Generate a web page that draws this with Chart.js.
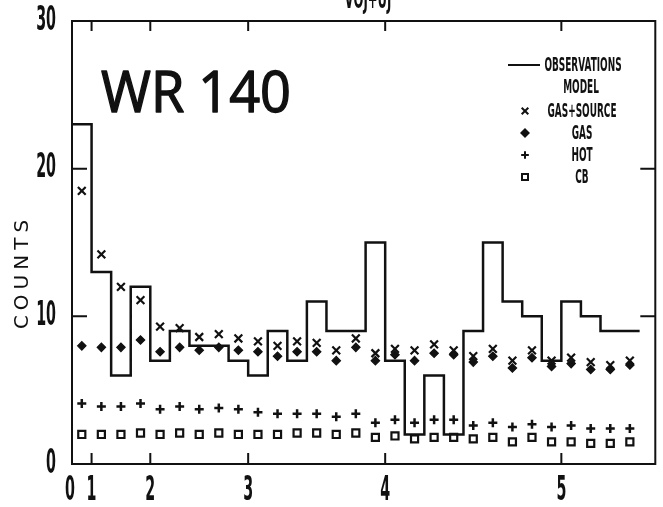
<!DOCTYPE html>
<html>
<head>
<meta charset="utf-8">
<title>WR 140 counts</title>
<script src="https://cdn.jsdelivr.net/npm/chart.js@4/dist/chart.umd.min.js"></script>
<style>
  html, body { margin: 0; padding: 0; background: #fff; }
  #wrap { width: 663px; height: 507px; }
</style>
</head>
<body>
<div id="wrap"><canvas id="chart" width="663" height="507"></canvas></div>
<script>
// observed counts per channel bin (histogram) and model components at bin centres
const observations = [23, 13, 6, 12, 7, 9, 8, 8, 7, 6, 9, 7, 11, 9, 9, 15, 7, 2, 6, 2, 9, 15, 11, 10, 7, 11, 10, 9, 9];
const gasSource = [18.5, 14.2, 12.0, 11.1, 9.3, 9.2, 8.6, 8.8, 8.5, 8.3, 8.0, 8.3, 8.2, 7.7, 8.5, 7.5, 7.8, 7.7, 8.1, 7.7, 7.3, 7.8, 7.0, 7.7, 7.0, 7.2, 6.9, 6.7, 7.0];
const gas = [8.0, 7.9, 7.9, 8.4, 7.6, 7.9, 7.7, 7.9, 7.7, 7.6, 7.3, 7.6, 7.6, 7.0, 7.9, 7.0, 7.4, 7.0, 7.5, 7.4, 6.9, 7.3, 6.5, 7.2, 6.6, 6.8, 6.4, 6.4, 6.7];
const hot = [4.1, 3.9, 3.9, 4.1, 3.7, 3.9, 3.7, 3.8, 3.7, 3.5, 3.4, 3.4, 3.4, 3.2, 3.4, 2.8, 3.0, 2.8, 3.0, 3.0, 2.6, 2.8, 2.5, 2.7, 2.5, 2.6, 2.4, 2.4, 2.4];
const cb = [2.0, 2.0, 2.0, 2.1, 2.0, 2.1, 2.0, 2.1, 2.0, 2.0, 2.0, 2.1, 2.1, 2.0, 2.1, 1.8, 1.9, 1.7, 1.8, 1.8, 1.7, 1.8, 1.5, 1.8, 1.5, 1.5, 1.4, 1.4, 1.5];

// axis ticks: energy labels sit at these channel positions
const yTicks = [0, 10, 20, 30];
const xTickChannels = [0, 1, 4, 9, 16, 25];
const xTickLabels = ['0', '1', '2', '3', '4', '5'];
const plotTitle = 'VOJ+UJ';
const sourceName = 'WR 140';

const ink = '#111';

// histogram: one point per bin edge, last bin closed by an extra point
const steps = observations.map((v, i) => ({x: i, y: v}));
steps.push({x: observations.length, y: observations[observations.length - 1]});
const atCentres = arr => arr.map((v, i) => ({x: i + 0.5, y: v}));

const series = [
  {label: 'GAS+SOURCE', data: gasSource, pointStyle: 'crossRot', pointRadius: 5.5, pointBorderWidth: 2.2, pointBackgroundColor: ink},
  {label: 'GAS', data: gas, pointStyle: 'rectRot', pointRadius: 4.2, pointBorderWidth: 1.2, pointBackgroundColor: ink},
  {label: 'HOT', data: hot, pointStyle: 'cross', pointRadius: 4.5, pointBorderWidth: 2.5, pointBackgroundColor: ink},
  {label: 'CB', data: cb, pointStyle: 'rect', pointRadius: 5, pointBorderWidth: 2.2, pointBackgroundColor: '#fff'}
];

function narrowText(ctx, text, x, y, sx, align) {
  ctx.save();
  ctx.translate(x, y);
  ctx.scale(sx, 1);
  ctx.textAlign = align || 'center';
  ctx.fillText(text, 0, 0);
  ctx.restore();
}

const decor = {
  id: 'decor',
  afterDraw(chart) {
    const {ctx, chartArea: a, scales: {x, y}} = chart;
    ctx.save();
    ctx.strokeStyle = ink;
    ctx.fillStyle = ink;
    ctx.lineWidth = 2;
    ctx.strokeRect(a.left, a.top, a.right - a.left, a.bottom - a.top);

    // inward tick marks on all four sides
    ctx.beginPath();
    xTickChannels.forEach(v => {
      if (v === 0) return;
      const px = x.getPixelForValue(v);
      ctx.moveTo(px, a.bottom); ctx.lineTo(px, a.bottom - 11);
      ctx.moveTo(px, a.top); ctx.lineTo(px, a.top + 10);
    });
    yTicks.forEach(v => {
      if (v === 0 || v === 30) return;
      const py = y.getPixelForValue(v);
      ctx.moveTo(a.left, py); ctx.lineTo(a.left + 15, py);
      ctx.moveTo(a.right, py); ctx.lineTo(a.right - 15, py);
    });
    ctx.stroke();

    // tick labels, tall condensed plotter digits
    ctx.font = 'bold 34px "DejaVu Sans"';
    ctx.textBaseline = 'middle';
    yTicks.forEach(v => narrowText(ctx, String(v), 56, y.getPixelForValue(v), 0.42, 'right'));
    xTickChannels.forEach((v, i) => {
      const px = x.getPixelForValue(v) + (i === 0 ? -2 : 0);
      narrowText(ctx, xTickLabels[i], px, 491, 0.42, 'center');
    });

    // y axis title
    ctx.font = '20px "DejaVu Sans"';
    ctx.save();
    ctx.letterSpacing = '5px';
    ctx.translate(23, 272);
    ctx.rotate(-Math.PI / 2);
    ctx.textAlign = 'center';
    ctx.fillText('COUNTS', 0, 0);
    ctx.restore();

    // cut-off plot title
    ctx.font = 'bold 26px "DejaVu Sans"';
    ctx.textBaseline = 'alphabetic';
    narrowText(ctx, plotTitle, 368, 8, 0.45, 'center');

    // legend
    ctx.font = 'bold 19px "DejaVu Sans"';
    ctx.textBaseline = 'middle';
    ctx.lineWidth = 2;
    ctx.beginPath();
    ctx.moveTo(508, 65); ctx.lineTo(540, 65);
    ctx.stroke();
    narrowText(ctx, 'OBSERVATIONS', 583, 66, 0.47);
    narrowText(ctx, 'MODEL', 581, 88, 0.47);
    const rows = [111, 133, 155, 177];
    series.forEach((s, i) => {
      ctx.fillStyle = s.pointBackgroundColor;
      Chart.helpers.drawPoint(ctx, {pointStyle: s.pointStyle, radius: s.pointRadius * 0.85, borderWidth: s.pointBorderWidth, rotation: 0}, 525, rows[i]);
      ctx.fillStyle = ink;
      narrowText(ctx, s.label, 582, rows[i] + 1, 0.47);
    });

    // source name overlay, slightly thickened
    ctx.font = '56px "Open Sans"';
    ctx.textBaseline = 'alphabetic';
    ctx.textAlign = 'left';
    ctx.lineWidth = 1.4;
    ctx.lineJoin = 'round';
    ctx.fillText(sourceName, 101, 112, 190);
    ctx.strokeText(sourceName, 101, 112, 190);
    ctx.restore();
  }
};

new Chart(document.getElementById('chart'), {
  type: 'scatter',
  data: {
    datasets: [
      {
        label: 'OBSERVATIONS',
        data: steps,
        showLine: true,
        stepped: true,
        borderColor: ink,
        borderWidth: 2.5,
        pointRadius: 0,
        order: 0
      },
      ...series.map(s => ({
        label: s.label,
        data: atCentres(s.data),
        pointStyle: s.pointStyle,
        pointRadius: s.pointRadius,
        pointBorderWidth: s.pointBorderWidth,
        pointBorderColor: ink,
        pointBackgroundColor: s.pointBackgroundColor,
        showLine: false
      }))
    ]
  },
  options: {
    responsive: false,
    animation: false,
    devicePixelRatio: 1,
    layout: {padding: {left: 72, top: 21, right: 1, bottom: 43}},
    plugins: {legend: {display: false}, tooltip: {enabled: false}},
    scales: {
      x: {type: 'linear', min: 0, max: 29.8, display: false},
      y: {type: 'linear', min: 0, max: 30, display: false}
    }
  },
  plugins: [decor]
});
</script>
</body>
</html>
